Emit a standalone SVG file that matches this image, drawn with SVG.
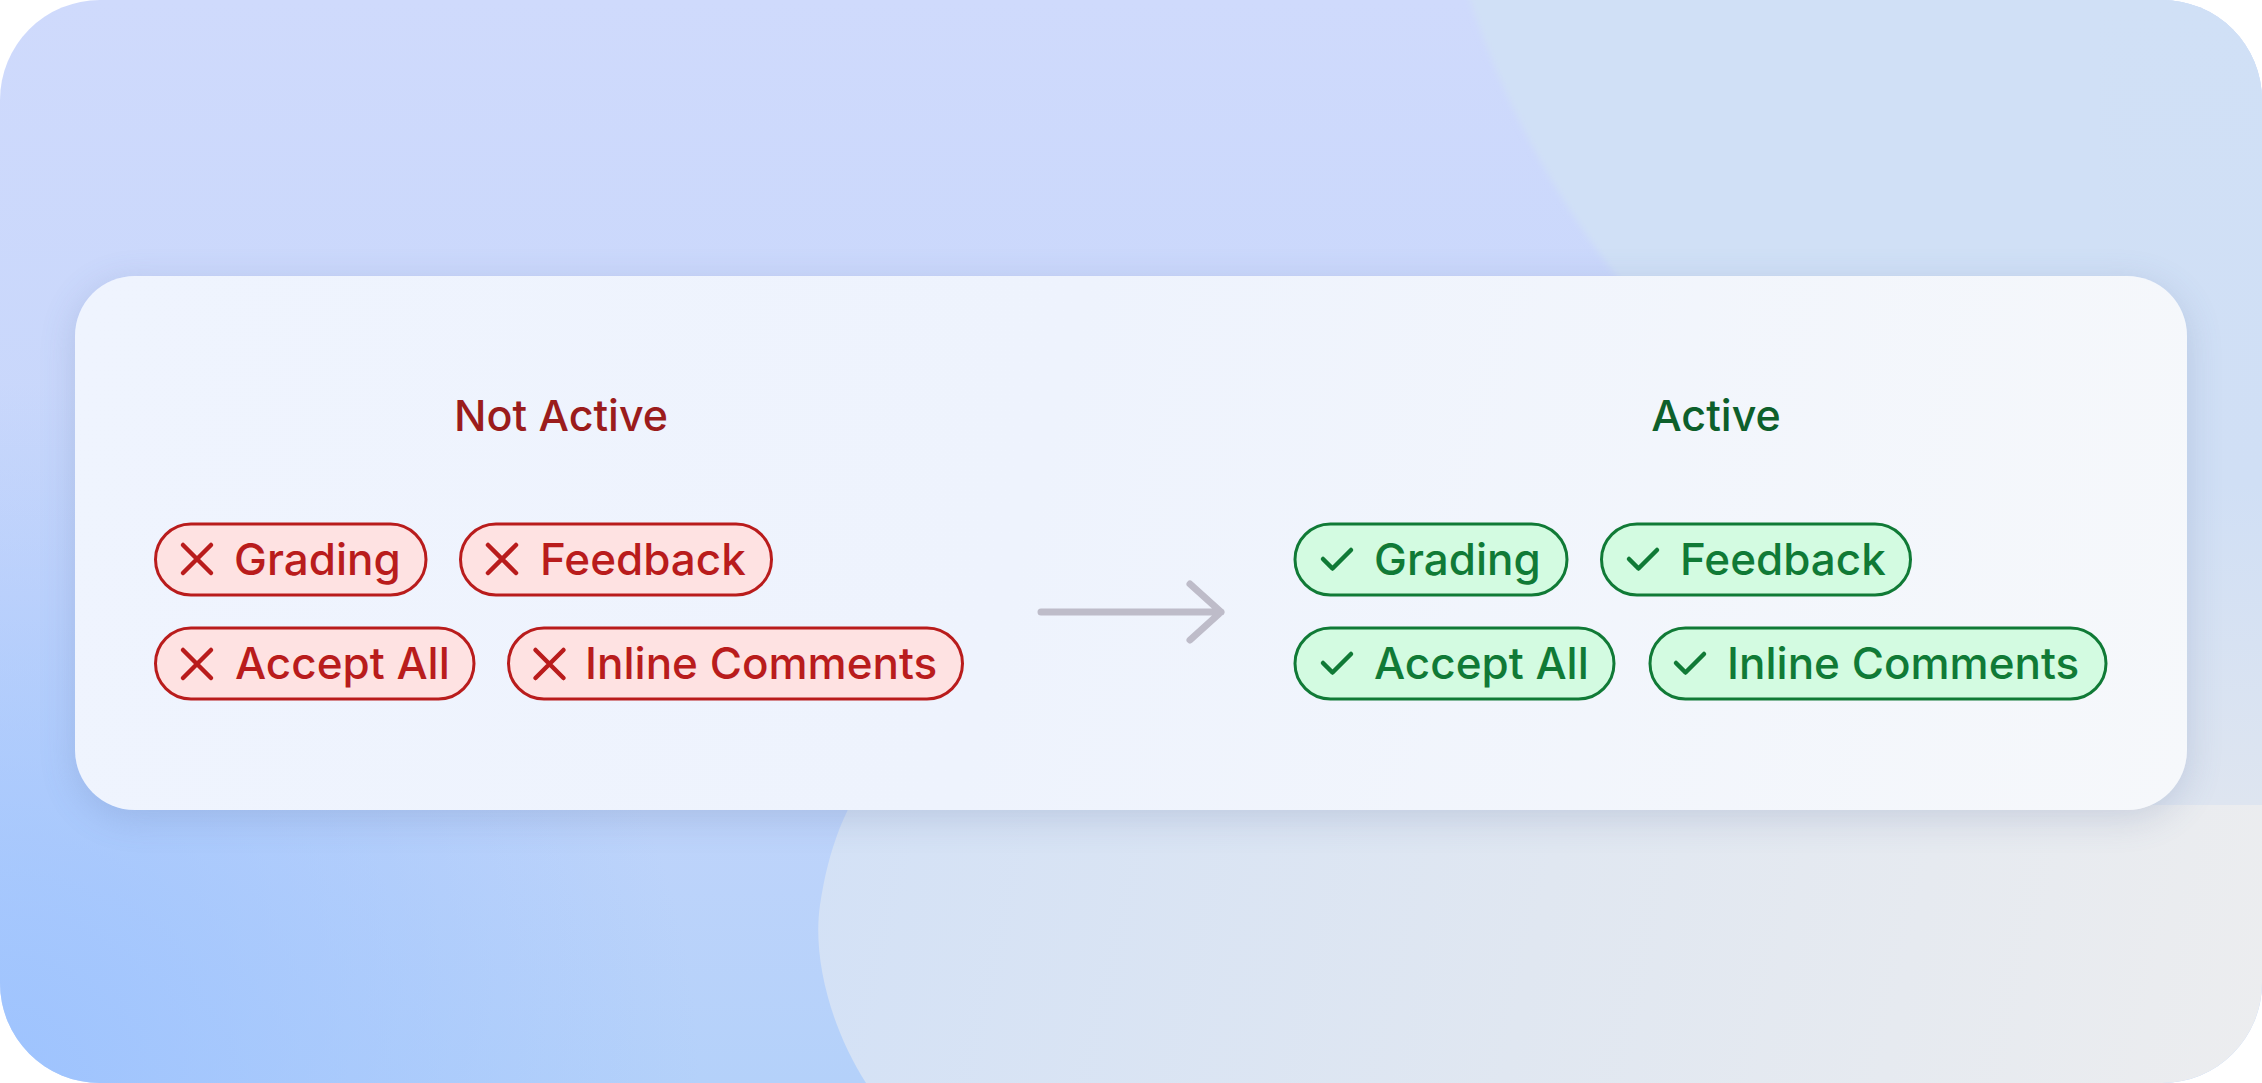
<svg xmlns="http://www.w3.org/2000/svg" width="2262" height="1083" viewBox="0 0 2262 1083">
  <defs>
    <linearGradient id="bgBase" x1="0" y1="0" x2="0" y2="1">
      <stop offset="0" stop-color="#CFDAFC"/>
      <stop offset="0.55" stop-color="#C6D6FB"/>
      <stop offset="1" stop-color="#B4D1FA"/>
    </linearGradient>
    <radialGradient id="bgCorner" cx="0" cy="1083" r="700" gradientUnits="userSpaceOnUse">
      <stop offset="0" stop-color="#9EC3FE" stop-opacity="1"/>
      <stop offset="1" stop-color="#9EC3FE" stop-opacity="0"/>
    </radialGradient>
    <linearGradient id="blobGrad" x1="820" y1="760" x2="2262" y2="1083" gradientUnits="userSpaceOnUse">
      <stop offset="0" stop-color="#D3E1F6"/>
      <stop offset="0.5" stop-color="#E0E7F1"/>
      <stop offset="1" stop-color="#ECEDEF"/>
    </linearGradient>
    <linearGradient id="stripGrad" x1="0" y1="0" x2="0" y2="805" gradientUnits="userSpaceOnUse">
      <stop offset="0" stop-color="#D0E0F6"/>
      <stop offset="0.6" stop-color="#D0DFF5"/>
      <stop offset="1" stop-color="#DEE5F0"/>
    </linearGradient>
    <linearGradient id="cardGrad" x1="75" y1="276" x2="2187" y2="810" gradientUnits="userSpaceOnUse">
      <stop offset="0" stop-color="#EFF4FE"/>
      <stop offset="0.45" stop-color="#EEF3FD"/>
      <stop offset="1" stop-color="#F6F8FB"/>
    </linearGradient>
    <clipPath id="outerClip">
      <rect x="0" y="0" width="2262" height="1083" rx="100" ry="100"/>
    </clipPath>
    <filter id="blur" x="-20%" y="-30%" width="140%" height="160%">
      <feGaussianBlur stdDeviation="18"/>
    </filter>
    <filter id="soft" x="-10%" y="-10%" width="120%" height="120%">
      <feGaussianBlur stdDeviation="3"/>
    </filter>
    <mask id="cardHole" maskUnits="userSpaceOnUse" x="0" y="0" width="2262" height="1083">
      <rect x="0" y="0" width="2262" height="1083" fill="#fff"/>
      <rect x="75" y="276" width="2112" height="534" rx="60" ry="60" fill="#000"/>
    </mask>
    <style>
      .pillR { fill: #FEE2E2; stroke: #B91C1C; stroke-width: 3; }
      .pillG { fill: #D3FBE1; stroke: #107A36; stroke-width: 3; }
      .txt { font-family: Inter, "Noto Sans", "Liberation Sans", sans-serif; font-size: 44px; font-weight: 450; }
      .tR { fill: #B91C1C; }
      .tG { fill: #107A36; }
      .title { font-family: Inter, "Noto Sans", "Liberation Sans", sans-serif; font-size: 43px; font-weight: 450; text-anchor: middle; }
      .icoR { fill: none; stroke: #B91C1C; stroke-width: 4.5; stroke-linecap: round; }
      .icoG { fill: none; stroke: #107A36; stroke-width: 4.5; stroke-linecap: round; stroke-linejoin: round; }
      .conn { fill: none; stroke: #BEBCC9; stroke-width: 7; stroke-linecap: round; stroke-linejoin: round; }
    </style>
  </defs>

  <g id="background" clip-path="url(#outerClip)">
    <rect x="0" y="0" width="2262" height="1083" fill="url(#bgBase)"/>
    <rect x="0" y="0" width="2262" height="1083" fill="url(#bgCorner)"/>
    <ellipse cx="2262" cy="-300" rx="840" ry="900" fill="#D0E0F6" filter="url(#soft)"/>
    <path d="M866 1083 C 832 1030, 812 960, 820 905 C 828 850, 846 800, 880 760 L 2262 760 L 2262 1083 Z" fill="url(#blobGrad)"/>
    <rect x="2100" y="0" width="162" height="805" fill="url(#stripGrad)"/>
    <g mask="url(#cardHole)">
      <rect x="75" y="284" width="2112" height="534" rx="60" ry="60" fill="#5A6E9E" opacity="0.22" filter="url(#blur)"/>
    </g>
  </g>

  <g id="card">
    <rect x="75" y="276" width="2112" height="534" rx="60" ry="60" fill="url(#cardGrad)"/>
  </g>

  <g id="title-not-active">
    <text class="title tR" x="561" y="431" style="fill:#9B1C1C">Not Active</text>
  </g>
  <g id="title-active">
    <text class="title tG" x="1716" y="431" style="fill:#0D5F2B">Active</text>
  </g>

  <g id="red-grading">
    <rect class="pillR" x="155.5" y="524" width="270.5" height="71" rx="35.5"/>
    <path class="icoR" d="M183 545 L211 573 M211 545 L183 573"/>
    <text class="txt tR" x="234" y="575">Grading</text>
  </g>
  <g id="red-feedback">
    <rect class="pillR" x="460.5" y="524" width="311" height="71" rx="35.5"/>
    <path class="icoR" d="M488 545 L516 573 M516 545 L488 573"/>
    <text class="txt tR" x="540" y="575">Feedback</text>
  </g>
  <g id="red-accept-all">
    <rect class="pillR" x="155.5" y="628" width="318.5" height="71" rx="35.5"/>
    <path class="icoR" d="M183 650 L211 678 M211 650 L183 678"/>
    <text class="txt tR" x="235" y="679">Accept All</text>
  </g>
  <g id="red-inline-comments">
    <rect class="pillR" x="508.5" y="628" width="454" height="71" rx="35.5"/>
    <path class="icoR" d="M535.5 650 L563.5 678 M563.5 650 L535.5 678"/>
    <text class="txt tR" x="585" y="679">Inline Comments</text>
  </g>

  <g id="green-grading">
    <rect class="pillG" x="1295" y="524" width="272" height="71" rx="35.5"/>
    <path class="icoG" d="M1323 559 L1332.5 568.5 L1351 550"/>
    <text class="txt tG" x="1374" y="575">Grading</text>
  </g>
  <g id="green-feedback">
    <rect class="pillG" x="1601.5" y="524" width="309" height="71" rx="35.5"/>
    <path class="icoG" d="M1629 559 L1638.5 568.5 L1657 550"/>
    <text class="txt tG" x="1680" y="575">Feedback</text>
  </g>
  <g id="green-accept-all">
    <rect class="pillG" x="1295" y="628" width="319" height="71" rx="35.5"/>
    <path class="icoG" d="M1323 663 L1332.5 672.5 L1351 654"/>
    <text class="txt tG" x="1374" y="679">Accept All</text>
  </g>
  <g id="green-inline-comments">
    <rect class="pillG" x="1650" y="628" width="456" height="71" rx="35.5"/>
    <path class="icoG" d="M1676 663 L1685.5 672.5 L1704 654"/>
    <text class="txt tG" x="1727" y="679">Inline Comments</text>
  </g>

  <g id="connectors">
    <path class="conn" d="M1041 612 L1221 612 M1190 584 L1221 612 L1190 640"/>
  </g>
</svg>
